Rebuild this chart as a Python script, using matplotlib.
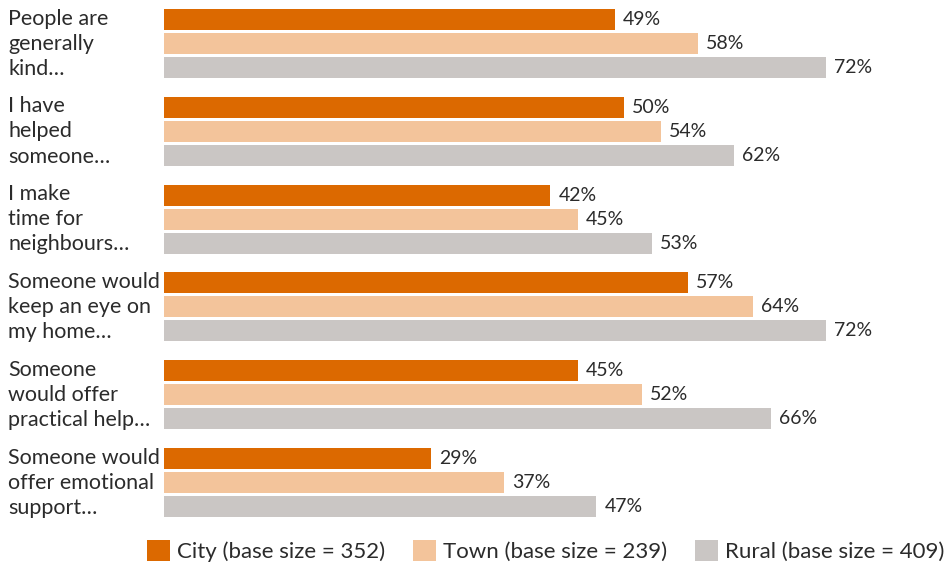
import matplotlib
matplotlib.use("Agg")
import matplotlib.pyplot as plt
import matplotlib.transforms as mtransforms
from matplotlib.patches import Patch
import numpy as np

statements = [
    "People are\ngenerally\nkind\u2026",
    "I have\nhelped\nsomeone\u2026",
    "I make\ntime for\nneighbours\u2026",
    "Someone would\nkeep an eye on\nmy home\u2026",
    "Someone\nwould offer\npractical help\u2026",
    "Someone would\noffer emotional\nsupport\u2026",
]
city = [49, 50, 42, 57, 45, 29]
town = [58, 54, 45, 64, 52, 37]
rural = [72, 62, 53, 72, 66, 47]
series_names = ["City (base size = 352)", "Town (base size = 239)", "Rural (base size = 409)"]

colors = ["#DC6900", "#F3C49B", "#CAC6C4"]
text_col = "#2b2b2b"
plt.rcParams['font.family'] = ['Lato', 'DejaVu Sans']

W, H = 946, 565
fig = plt.figure(figsize=(W / 100, H / 100), dpi=100)
ax = fig.add_axes([164 / W, (H - 517) / H, (W - 164) / W, 508 / H])

pitch = 24 / 88
bh = 21 / 88
y = np.arange(len(statements))
for k, (vals, col) in enumerate(zip([city, town, rural], colors)):
    pos = y + (k - 1) * pitch
    ax.barh(pos, vals, height=bh, color=col, label=series_names[k])
    for p, v in zip(pos, vals):
        ax.annotate(f"{v}%", (v, p), xytext=(8, 0), textcoords="offset pixels",
                    va="center", ha="left", fontsize=14, color=text_col)

ax.set_xlim(0, (W - 164) / 9.2)
ax.set_ylim(len(statements) - 1 + 34.5 / 88, -34.5 / 88)
ax.axis("off")

# statement labels, left aligned at the figure edge
trans = mtransforms.blended_transform_factory(fig.transFigure, ax.transData)
for i, s in enumerate(statements):
    ax.text(8 / W, i - 35 / 88, s, transform=trans, ha="left", va="top",
            fontsize=15.5, color=text_col, linespacing=1.32, clip_on=False)

handles = [Patch(facecolor=c, edgecolor="none") for c in colors]
fig.legend(handles, series_names, loc="lower right",
           bbox_to_anchor=(1 - 2 / W, 3 / H),
           ncol=3, frameon=False, fontsize=16, handlelength=1.05, handleheight=1.05,
           handletextpad=0.3, columnspacing=1.25, borderaxespad=0, borderpad=0,
           labelcolor=text_col)

fig.savefig("out.png", dpi=100)
